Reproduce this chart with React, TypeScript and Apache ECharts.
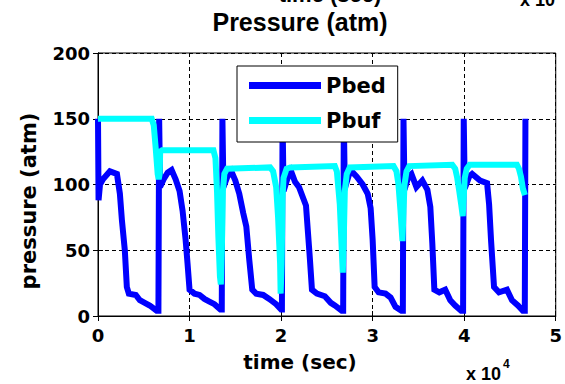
import React, { useEffect, useRef } from "react";
import * as echarts from "echarts";

// Series names, in drawing order (the buffer line sits on top of the bed line)
const SERIES_NAMES = ["Pbed", "Pbuf"];
const SERIES_COLORS = ["#0000ff", "#00ffff"];

// Bed pressure [time (s), pressure (atm)]
const PBED: [number, number][] = [
  [0, 150], [60, 88], [220, 100], [540, 104], [1300, 110], [2070, 108], [2390, 93], [2610, 73],
  [2930, 50], [3150, 22], [3370, 17], [4130, 16], [4570, 12], [5110, 10], [5650, 8], [6410, 4], [6600, 4],
  [6680, 150], [6780, 98],
  [7170, 104], [7610, 109], [8040, 111], [8480, 104], [8910, 95], [9240, 80], [9570, 58], [9780, 40],
  [10000, 20], [10540, 17], [11090, 16], [11630, 13], [12170, 11], [12720, 9], [13370, 5], [13520, 5],
  [13590, 150], [13700, 98],
  [14130, 106], [14570, 110], [15000, 103], [15430, 93], [15870, 78], [16200, 68], [16520, 43],
  [16850, 20], [17280, 17], [18040, 16], [18700, 13], [19460, 9], [20000, 5], [20090, 5],
  [20160, 150], [20270, 95],
  [20760, 106], [21090, 110], [21520, 102], [21960, 98], [22500, 88], [22720, 84], [22940, 63],
  [23150, 43], [23370, 20], [23910, 17], [24780, 15], [25430, 10], [25870, 8], [26630, 4], [26780, 4],
  [26850, 150], [26960, 97],
  [27390, 107], [27720, 110], [28260, 106], [28910, 100], [29460, 93], [29780, 82], [30000, 58],
  [30220, 22], [30650, 18], [31410, 17], [31960, 14], [32500, 7], [33150, 4], [33300, 4],
  [33370, 150], [33480, 96],
  [33910, 106], [34240, 108], [34780, 98], [35430, 103], [35980, 96], [36300, 83], [36520, 55],
  [36740, 20], [37280, 18], [37930, 20], [38480, 12], [39020, 8], [39670, 4], [39880, 4],
  [39950, 150], [40060, 97],
  [40540, 106], [40870, 108], [41740, 103], [42500, 101], [42720, 85], [42930, 58], [43260, 22],
  [43800, 18], [44670, 20], [45220, 12], [45870, 8], [46410, 4], [46620, 4],
  [46690, 150],
];

// Buffer tank pressure [time (s), pressure (atm)]
const PBUF: [number, number][] = [
  [0, 150], [5870, 150], [6090, 145], [6300, 128], [6520, 108], [6630, 104], [6740, 108], [6790, 125], [7000, 126],
  [12610, 126], [12830, 120], [13000, 95], [13150, 60], [13320, 30], [13420, 24], [13530, 50], [13640, 95],
  [13800, 108], [14100, 112],
  [18800, 113], [19130, 110], [19460, 98], [19670, 75], [19890, 40], [19950, 17], [20060, 40], [20160, 90],
  [20270, 105], [20600, 112], [21000, 113],
  [25870, 114], [26090, 110], [26410, 85], [26630, 50], [26740, 33], [26850, 60], [26960, 95], [27170, 108],
  [27500, 113],
  [32280, 114], [32600, 110], [32820, 100], [33040, 80], [33260, 57], [33370, 80], [33480, 100], [33700, 110],
  [34000, 114],
  [38700, 115], [39020, 112], [39240, 105], [39460, 95], [39670, 85], [39840, 76], [39950, 90], [40060, 105],
  [40280, 112], [40600, 115],
  [45760, 115], [45980, 112], [46200, 106], [46410, 97], [46630, 92],
];

const X_MIN = 0;
const X_MAX = 50000;
const X_STEP = 10000;
const Y_MIN = 0;
const Y_MAX = 200;
const Y_STEP = 50;

const TITLE = "Pressure (atm)";
const X_NAME = "time (sec)";
const Y_NAME = "pressure (atm)";
const X_EXP_BASE = "x 10";
const X_EXP_POWER = "4";

const FONT = "DejaVu Sans";
const SANS = "Liberation Sans";

export default function App() {
  const ref = useRef<HTMLDivElement>(null);

  useEffect(() => {
    document.body.style.margin = "0";
    if (!ref.current) return;
    const chart = echarts.init(ref.current, null, { renderer: "svg" });

    const tickLabel = {
      fontFamily: FONT,
      fontWeight: "bold" as const,
      fontSize: 18,
      color: "#000",
    };
    const dashed = { show: true, lineStyle: { color: "#000", width: 1, type: [4, 3] } };
    const insideTick = { show: true, inside: true, length: 5, lineStyle: { color: "#000", width: 1 } };
    const line = { show: true, lineStyle: { color: "#000", width: 1 } };

    const text = (
      x: number,
      y: number,
      content: string,
      font: string,
      align: string,
      vAlign: string,
      rotation = 0
    ) => ({
      type: "text",
      x,
      y,
      rotation,
      style: {
        text: content,
        fill: "#000",
        font,
        textAlign: align,
        textVerticalAlign: vAlign,
        align,
        verticalAlign: vAlign,
      },
    });

    chart.setOption({
      animation: false,
      backgroundColor: "#fff",
      grid: {
        left: 98,
        right: 7,
        top: 53,
        bottom: 68,
        show: true,
        borderColor: "#000",
        borderWidth: 1,
        backgroundColor: "#fff",
      },
      legend: {
        data: SERIES_NAMES,
        orient: "vertical",
        left: 237,
        top: 66,
        backgroundColor: "#fff",
        borderColor: "#000",
        borderWidth: 1,
        borderRadius: 0,
        padding: [9, 12, 11, 12],
        itemGap: 14,
        itemWidth: 72,
        itemHeight: 7,
        icon: "rect",
        textStyle: { fontFamily: FONT, fontWeight: "bold", fontSize: 21, color: "#000" },
      },
      xAxis: [
        {
          type: "value",
          min: X_MIN,
          max: X_MAX,
          interval: X_STEP,
          axisLine: line,
          axisTick: insideTick,
          axisLabel: { ...tickLabel, margin: 10, formatter: (v: number) => String(v / 10000) },
          splitLine: dashed,
        },
        {
          type: "value",
          position: "top",
          min: X_MIN,
          max: X_MAX,
          interval: X_STEP,
          axisLine: line,
          axisTick: insideTick,
          axisLabel: { show: false },
          splitLine: { show: false },
        },
      ],
      yAxis: [
        {
          type: "value",
          min: Y_MIN,
          max: Y_MAX,
          interval: Y_STEP,
          axisLine: line,
          axisTick: insideTick,
          axisLabel: { ...tickLabel, margin: 8 },
          splitLine: dashed,
        },
        {
          type: "value",
          position: "right",
          min: Y_MIN,
          max: Y_MAX,
          interval: Y_STEP,
          axisLine: line,
          axisTick: insideTick,
          axisLabel: { show: false },
          splitLine: { show: false },
        },
      ],
      series: [
        {
          name: SERIES_NAMES[0],
          type: "line",
          data: PBED,
          showSymbol: false,
          symbol: "none",
          color: SERIES_COLORS[0],
          lineStyle: { color: SERIES_COLORS[0], width: 6, join: "miter", cap: "butt" },
          z: 2,
        },
        {
          name: SERIES_NAMES[1],
          type: "line",
          data: PBUF,
          showSymbol: false,
          symbol: "none",
          color: SERIES_COLORS[1],
          lineStyle: { color: SERIES_COLORS[1], width: 6, join: "miter", cap: "butt" },
          z: 3,
        },
      ],
      graphic: [
        // bottom edge of the labels of the panel above, cut by the top of the figure
        text(330, 5, X_NAME, `bold 22px "${SANS}"`, "center", "bottom"),
        text(520, 9, X_EXP_BASE, `bold 18px "${SANS}"`, "left", "bottom"),
        // this panel's title and axis labels
        text(300, 22, TITLE, `bold 25px "${SANS}"`, "center", "middle"),
        text(300, 362, X_NAME, `bold 20px "${FONT}"`, "center", "middle"),
        text(29, 201, Y_NAME, `bold 21px "${FONT}"`, "center", "middle", Math.PI / 2),
        text(466, 374, X_EXP_BASE, `bold 18px "${SANS}"`, "left", "middle"),
        text(503, 364, X_EXP_POWER, `bold 12px "${SANS}"`, "left", "middle"),
      ],
    });

    return () => chart.dispose();
  }, []);

  return <div ref={ref} style={{ width: 565, height: 384 }} />;
}
